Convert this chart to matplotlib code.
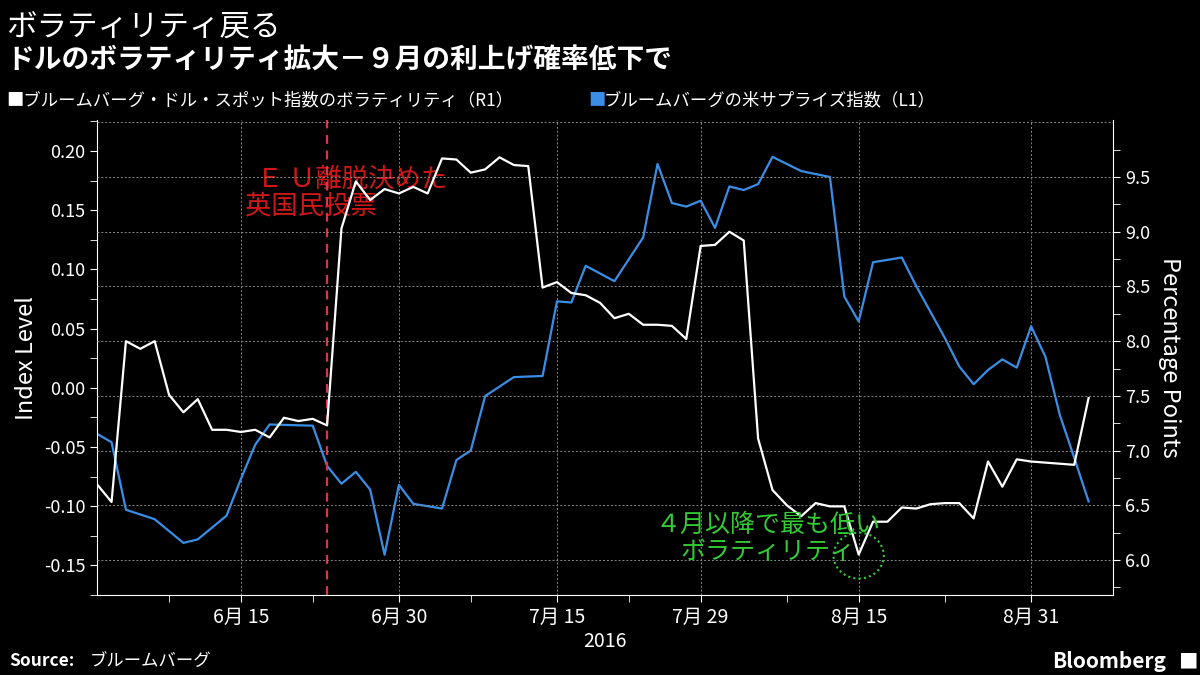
import matplotlib
matplotlib.use("Agg")
import matplotlib.pyplot as plt
import numpy as np
import pandas as pd
from matplotlib.patches import Ellipse

plt.rcParams['font.family'] = ['Noto Sans CJK JP', 'DejaVu Sans']

# Bloomberg Dollar Spot Index volatility (right axis), daily business days from 2016-06-01
vol_values = [6.69, 6.53, 8.0, 7.93, 8.0, 7.51, 7.35, 7.47, 7.19, 7.19, 7.17, 7.19, 7.12, 7.30, 7.27,
              7.29, 7.23, 9.03, 9.46, 9.29, 9.39, 9.35, 9.41, 9.35, 9.67, 9.66, 9.54, 9.57, 9.68, 9.61,
              9.60, 8.49, 8.54, 8.44, 8.42, 8.35, 8.21, 8.25, 8.15, 8.15, 8.14, 8.02, 8.87, 8.88, 9.0,
              8.92, 7.11, 6.64, 6.5, 6.4, 6.52, 6.49, 6.49, 6.05, 6.35, 6.35, 6.48, 6.47, 6.51, 6.52,
              6.52, 6.38, 6.9, 6.67, 6.92, 6.90, 6.89, 6.88, 6.87, 7.48]
# Bloomberg US economic surprise index (left axis)
surp_dates = ["2016-06-01", "2016-06-02", "2016-06-03", "2016-06-07", "2016-06-09", "2016-06-10",
              "2016-06-14", "2016-06-15", "2016-06-16", "2016-06-17", "2016-06-22", "2016-06-23",
              "2016-06-24", "2016-06-27", "2016-06-28", "2016-06-29", "2016-06-30", "2016-07-01",
              "2016-07-05", "2016-07-06", "2016-07-07", "2016-07-08", "2016-07-12", "2016-07-14",
              "2016-07-15", "2016-07-18", "2016-07-19", "2016-07-21", "2016-07-25", "2016-07-26",
              "2016-07-27", "2016-07-28", "2016-07-29", "2016-08-01", "2016-08-02", "2016-08-03",
              "2016-08-04", "2016-08-05", "2016-08-09", "2016-08-11", "2016-08-12", "2016-08-15",
              "2016-08-16", "2016-08-18", "2016-08-19", "2016-08-23", "2016-08-24", "2016-08-25",
              "2016-08-26", "2016-08-29", "2016-08-30", "2016-08-31", "2016-09-01", "2016-09-02",
              "2016-09-05", "2016-09-06"]
surp_values = [-0.039, -0.046, -0.103, -0.111, -0.131, -0.128, -0.108, -0.077, -0.048, -0.031,
               -0.032, -0.066, -0.081, -0.071, -0.086, -0.141, -0.082, -0.098, -0.102, -0.061,
               -0.053, -0.007, 0.009, 0.010, 0.073, 0.072, 0.103, 0.090, 0.127, 0.189, 0.156,
               0.153, 0.158, 0.135, 0.170, 0.167, 0.172, 0.195, 0.183, 0.178, 0.077, 0.056, 0.106,
               0.110, 0.086, 0.042, 0.018, 0.003, 0.015, 0.024, 0.017, 0.052, 0.026, -0.023,
               -0.059, -0.096]
tick_dates = ["2016-06-15", "2016-06-30", "2016-07-15", "2016-07-29", "2016-08-15", "2016-08-31"]
tick_labels = ["6月 15", "6月 30", "7月 15", "7月 29", "8月 15", "8月 31"]

bdays = pd.bdate_range("2016-06-01", periods=len(vol_values))
def pos(ds):
    return np.searchsorted(bdays, pd.to_datetime(ds))

BG = "black"
fig = plt.figure(figsize=(12, 6.75), dpi=100, facecolor=BG)
ax = fig.add_axes([0.081, 0.1185, 0.8465, 0.7035], facecolor=BG)
ax2 = ax.twinx()

x_vol = np.arange(len(vol_values))
ax2.plot(x_vol, vol_values, color="white", lw=1.6, zorder=3)
ax.plot(pos(surp_dates), surp_values, color="#3a8ee6", lw=1.6, zorder=2)

ax.set_xlim(0, 70.7)
ax.set_ylim(-0.173, 0.226)
ax2.set_ylim(5.68, 10.02)
ax.set_yticks([-0.15, -0.10, -0.05, 0.0, 0.05, 0.10, 0.15, 0.20])
ax.set_yticklabels(["-0.15", "-0.10", "-0.05", "0.00", "0.05", "0.10", "0.15", "0.20"])
ax.set_yticks(np.arange(-0.175, 0.226, 0.05), minor=True)
ax2.set_yticks(np.arange(6.0, 9.6, 0.5))
ax2.set_yticks(np.arange(5.75, 10.0, 0.5), minor=True)
ax.set_xticks(pos(tick_dates))
ax.set_xticklabels(tick_labels)
ax.set_xticks(pos(["2016-06-08", "2016-06-22", "2016-07-07", "2016-07-22", "2016-08-08", "2016-08-23"]), minor=True)

for a in (ax, ax2):
    for s in a.spines.values():
        s.set_visible(False)
    a.tick_params(colors="white", labelsize=13, which="both", length=5)
ax.spines["bottom"].set_visible(True); ax.spines["bottom"].set_color("white")
ax.spines["left"].set_visible(True); ax.spines["left"].set_color("white")
ax2.spines["right"].set_visible(True); ax2.spines["right"].set_color("white")
ax.tick_params(axis="x", labelsize=14, which="both", length=5)

# grid
for y in np.arange(6.0, 10.01, 0.5):
    ax2.axhline(y, color="#888888", lw=0.7, ls=(0, (2, 2)), zorder=0)
for xt in pos(tick_dates):
    ax.axvline(xt, color="#888888", lw=0.7, ls=(0, (2, 2)), zorder=0)

ax.set_ylabel("Index Level", color="white", fontsize=17)
ax2.set_ylabel("Percentage Points", color="white", fontsize=17, rotation=270, labelpad=22)
ax.set_xlabel("2016", color="white", fontsize=14, labelpad=2)

# Brexit annotation
bx = pos("2016-06-23")
ax.axvline(bx, color="#e0304a", lw=1.6, ls=(0, (4, 3)), zorder=4)
ax.text(bx - 2.3, 0.165, "Ｅ Ｕ離脱決めた\n英国民投票", color="#d01818", fontsize=19,
        ha="left", va="center", linespacing=1.0, zorder=1, x=None) if False else None
ax.text(bx - 5.7, 0.165, "  Ｅ Ｕ離脱決めた\n英国民投票", color="#d01818", fontsize=19,
        ha="left", va="center", linespacing=1.0, zorder=1)

# low annotation
lx = pos("2016-08-15")
ax2.text(lx - 6.3, 6.2, "４月以降で最も低い\nボラティリティ", color="#33cc33", fontsize=18,
         ha="center", va="center", linespacing=1.05)
ax2.add_patch(Ellipse((lx, 6.04), 3.5, 0.42, fill=False, ec="#33cc33", lw=1.5, ls=(0, (1, 1.5))))

fig.text(0.005, 0.96, "ボラティリティ戻る", color="white", fontsize=22, va="center")
fig.text(0.005, 0.91, "ドルのボラティリティ拡大－９月の利上げ確率低下で", color="white", fontsize=20,
         va="center", fontweight="bold")
fig.text(0.005, 0.852, "■ブルームバーグ・ドル・スポット指数のボラティリティ（R1）", color="white",
         fontsize=12.5, va="center")
fig.text(0.49, 0.852, "■", color="#3a8ee6", fontsize=12.5, va="center")
fig.text(0.503, 0.852, "ブルームバーグの米サプライズ指数（L1）", color="white", fontsize=12.5, va="center")
fig.text(0.008, 0.02, "Source:", color="white", fontsize=12.5, fontweight="bold", va="center")
fig.text(0.075, 0.02, "ブルームバーグ", color="white", fontsize=12.5, va="center")
fig.text(0.972, 0.02, "Bloomberg", color="white", fontsize=15, fontweight="bold", va="center", ha="right")
fig.text(0.99, 0.02, "■", color="white", fontsize=14, va="center", ha="center")

fig.savefig("out.png", dpi=100, facecolor=BG)
